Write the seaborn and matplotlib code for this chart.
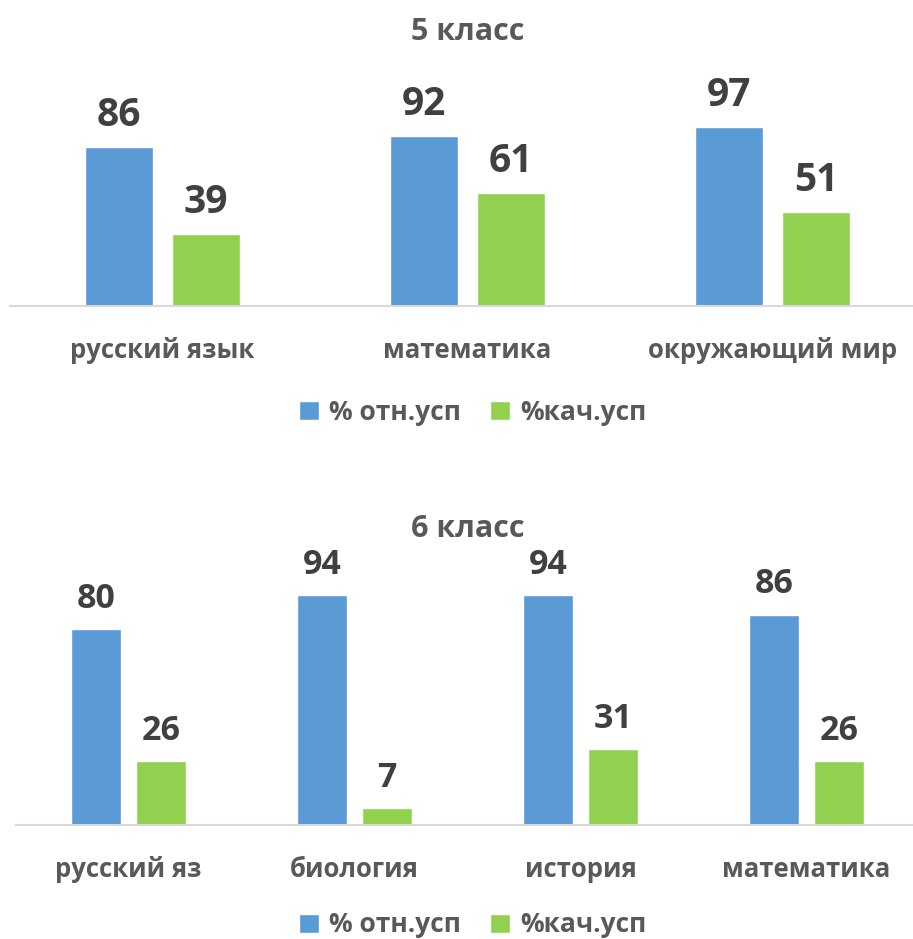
import matplotlib
matplotlib.use("Agg")
import matplotlib.pyplot as plt
import seaborn as sns
import pandas as pd
from matplotlib.patches import Patch

sns.set_theme(style="white")
plt.rcParams['font.family'] = ['Open Sans', 'DejaVu Sans']
plt.rcParams['font.weight'] = 'bold'

series_names = ["% отн.усп", "%кач.усп"]
colors = ["#5B9BD5", "#92D050"]
dark_text = "#404040"
title_color = "#595959"

title5 = "5 класс"
subjects5 = ["русский язык", "математика", "окружающий мир"]
abs5 = [86, 92, 97]
qual5 = [39, 61, 51]

title6 = "6 класс"
subjects6 = ["русский яз", "биология", "история", "математика"]
abs6 = [80, 94, 94, 86]
qual6 = [26, 7, 31, 26]

W, H = 913, 939
fig = plt.figure(figsize=(W / 100, H / 100), dpi=100)


def make_df(subjects, a, q):
    return pd.DataFrame({
        "subject": subjects * 2,
        "series": [series_names[0]] * len(subjects) + [series_names[1]] * len(subjects),
        "value": list(a) + list(q),
    })


def panel(rect, subjects, a, q, title, width, gap, ylim, vfs, tfs, ttfs, lfs, title_y, leg_y, vpad):
    ax = fig.add_axes(rect)
    df = make_df(subjects, a, q)
    sns.barplot(data=df, x="subject", y="value", hue="series", palette=colors,
                width=width, gap=gap, ax=ax, legend=False, saturation=1)
    ax.set_ylim(0, ylim)
    ax.set_xlim(-0.5, len(subjects) - 0.5)
    for c in ax.containers:
        ax.bar_label(c, fmt="%d", padding=vpad, fontsize=vfs, fontweight="bold", color=dark_text)
    for s in ["top", "left", "right"]:
        ax.spines[s].set_visible(False)
    ax.spines["bottom"].set_color("#D9D9D9")
    ax.spines["bottom"].set_linewidth(1.5)
    ax.set_yticks([])
    ax.set_xlabel("")
    ax.set_ylabel("")
    ax.tick_params(axis="x", length=0, pad=22, labelsize=tfs, labelcolor=title_color)
    for t in ax.get_xticklabels():
        t.set_fontweight("bold")
    fig.text(468 / W, title_y, title, ha="center", va="center", fontsize=ttfs,
             fontweight="bold", color=title_color)
    handles = [Patch(facecolor=colors[i], label=series_names[i]) for i in range(2)]
    fig.legend(handles=handles, loc="center", bbox_to_anchor=(473 / W, leg_y), ncol=2,
               frameon=False, handlelength=0.75, handleheight=0.75,
               handletextpad=0.4, columnspacing=1.1, prop={"weight": "bold", "size": lfs},
               labelcolor=title_color)
    return ax


# top panel: baseline at y=306px, 1.85 px per unit
top_base, top_top = 306, 60
panel([10 / W, 1 - top_base / H, 915 / W, (top_base - top_top) / H],
      subjects5, abs5, qual5, title5, 0.57, 0.22, (top_base - top_top) / 1.85,
      28, 18.5, 22, 19, 1 - 32 / H, 1 - 412 / H, 8.5)

# bottom panel: baseline at y=825px, 2.447 px per unit
bot_base, bot_top = 825, 545
panel([15.5 / W, 1 - bot_base / H, 904 / W, (bot_base - bot_top) / H],
      subjects6, abs6, qual6, title6, 0.575, 0.23, (bot_base - bot_top) / 2.447,
      24.5, 18.5, 22, 19, 1 - 529 / H, 1 - 925 / H, 9.5)

fig.savefig("out.png", dpi=100)
